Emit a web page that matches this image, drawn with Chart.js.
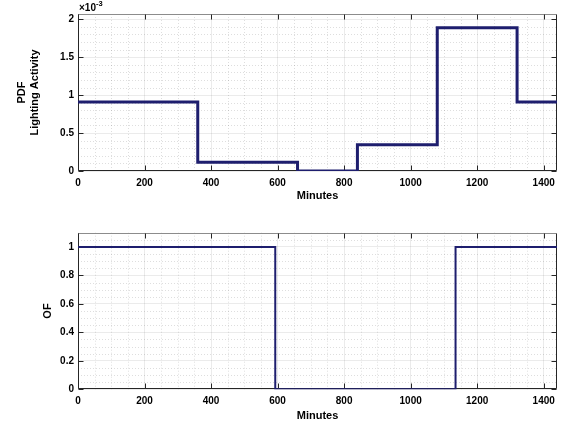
<!DOCTYPE html>
<html>
<head>
<meta charset="utf-8">
<script src="https://cdn.jsdelivr.net/npm/chart.js@4"></script>
<style>
  html, body { margin: 0; padding: 0; background: #fff; }
  canvas { position: absolute; left: 0; }
</style>
</head>
<body>
<canvas id="pdfChart" width="568" height="210" style="top:0"></canvas>
<canvas id="ofChart" width="568" height="211" style="top:210px"></canvas>
<script>
// Top panel: lighting activity PDF (values in units of 1e-3), one value per interval
const pdfBreaks = [0, 360, 660, 840, 1080, 1320, 1440];
const pdfValues = [0.91, 0.115, 0, 0.345, 1.89, 0.91];
// Bottom panel: OF on/off, one value per interval
const ofBreaks = [0, 593, 1135, 1440];
const ofValues = [1, 0, 1];
// tick labels
const minuteTicks = [0, 200, 400, 600, 800, 1000, 1200, 1400];
const pdfTicks = [0, 0.5, 1, 1.5, 2];
const ofTicks = [0, 0.2, 0.4, 0.6, 0.8, 1];

const navy = "rgb(30, 30, 110)";
const axisColor = "#262626";
const tickFont = { family: "Liberation Sans, Arial, sans-serif", size: 10, weight: "bold" };
const titleFont = { family: "Liberation Sans, Arial, sans-serif", size: 11, weight: "bold", lineHeight: 1.2 };

// turn interval breaks + values into points for a stepped line
function stepPoints(breaks, values) {
  return breaks.map((b, i) => ({ x: b, y: values[Math.min(i, values.length - 1)] }));
}
function fixedTicks(list) {
  return scale => { scale.ticks = list.map(v => ({ value: v })); };
}

// minor dotted grid, box and inward tick marks like a matlab axes
const matlabAxes = {
  id: "matlabAxes",
  beforeDatasetsDraw(chart, args, opts) {
    const { ctx, chartArea: a, scales: { x, y } } = chart;
    ctx.save();
    ctx.lineWidth = 1;
    ctx.strokeStyle = "rgba(0,0,0,0.13)";
    ctx.setLineDash([1, 2]);
    const isMajor = (sc, v) => sc.ticks.some(t => Math.abs(t.value - v) < 1e-9);
    for (let k = 1; k * opts.xMinor < x.max; k++) {
      const v = k * opts.xMinor;
      if (isMajor(x, v)) continue;
      const px = Math.round(x.getPixelForValue(v)) + 0.5;
      ctx.beginPath(); ctx.moveTo(px, a.top); ctx.lineTo(px, a.bottom); ctx.stroke();
    }
    for (let k = 1; k * opts.yMinor < y.max - 1e-9; k++) {
      const v = k * opts.yMinor;
      if (isMajor(y, v)) continue;
      const py = Math.round(y.getPixelForValue(v)) + 0.5;
      ctx.beginPath(); ctx.moveTo(a.left, py); ctx.lineTo(a.right, py); ctx.stroke();
    }
    ctx.setLineDash([]);
    const L = Math.round(a.left) + 0.5, R = Math.round(a.right) - 0.5;
    const T = Math.round(a.top) + 0.5, B = Math.round(a.bottom) - 0.5;
    ctx.strokeStyle = "#8c8c8c";
    ctx.beginPath(); ctx.moveTo(L, T); ctx.lineTo(R, T); ctx.stroke();
    ctx.strokeStyle = axisColor;
    ctx.beginPath();
    ctx.moveTo(L, T); ctx.lineTo(L, B); ctx.lineTo(R, B); ctx.lineTo(R, T);
    ctx.stroke();
    const len = 5;
    x.ticks.forEach(t => {
      const px = Math.round(x.getPixelForValue(t.value)) + 0.5;
      ctx.beginPath();
      ctx.moveTo(px, B); ctx.lineTo(px, B - len);
      ctx.moveTo(px, T); ctx.lineTo(px, T + len);
      ctx.stroke();
    });
    y.ticks.forEach(t => {
      const py = Math.round(y.getPixelForValue(t.value)) + 0.5;
      ctx.beginPath();
      ctx.moveTo(L, py); ctx.lineTo(L + len, py);
      ctx.moveTo(R, py); ctx.lineTo(R - len, py);
      ctx.stroke();
    });
    ctx.restore();
  },
  afterDraw(chart, args, opts) {
    if (!opts.exponent) return;
    const { ctx, chartArea: a } = chart;
    ctx.save();
    ctx.fillStyle = "#000";
    ctx.textBaseline = "alphabetic";
    ctx.font = "bold 10px Liberation Sans, Arial, sans-serif";
    ctx.fillText("\u00d710", a.left + 1, a.top - 3);
    const w = ctx.measureText("\u00d710").width;
    ctx.font = "bold 7.5px Liberation Sans, Arial, sans-serif";
    ctx.fillText(opts.exponent, a.left + 1 + w, a.top - 8.5);
    ctx.restore();
  }
};

function makeChart(id, pts, width, yMax, yTicks, yTitle, yTitlePad, minors, pad, xHeight, xTitlePad) {
  return new Chart(document.getElementById(id), {
    type: "line",
    data: {
      datasets: [{
        data: pts,
        stepped: true,
        borderColor: navy,
        borderWidth: width,
        pointRadius: 0,
        fill: false
      }]
    },
    options: {
      responsive: false,
      animation: false,
      events: [],
      layout: { padding: pad },
      plugins: {
        legend: { display: false },
        tooltip: { enabled: false },
        matlabAxes: minors
      },
      scales: {
        x: {
          type: "linear",
          min: 0,
          max: 1440,
          afterBuildTicks: fixedTicks(minuteTicks),
          afterFit: s => { s.height = xHeight; },
          grid: { color: "rgba(0,0,0,0.08)", drawTicks: false },
          border: { display: false },
          ticks: { padding: 6, font: tickFont, color: "#000", maxRotation: 0, autoSkip: false,
                   callback: v => String(v) },
          title: { display: true, text: "Minutes", font: titleFont, color: "#000", padding: xTitlePad }
        },
        y: {
          type: "linear",
          min: 0,
          max: yMax,
          afterBuildTicks: fixedTicks(yTicks),
          afterFit: s => { s.width = 78; },
          grid: { color: "rgba(0,0,0,0.08)", drawTicks: false },
          border: { display: false },
          ticks: { padding: 4, font: tickFont, color: "#000", autoSkip: false,
                   callback: v => String(v) },
          title: { display: true, text: yTitle, font: titleFont, color: "#000",
                   padding: { top: yTitlePad, bottom: 0 } }
        }
      }
    },
    plugins: [matlabAxes]
  });
}

makeChart("pdfChart", stepPoints(pdfBreaks, pdfValues), 3, 2.07, pdfTicks,
  ["PDF", "Lighting Activity"], 15, { xMinor: 50, yMinor: 0.1, exponent: "-3" },
  { left: 0, right: 11, top: 14, bottom: 0 }, 39, { top: 0, bottom: 7.4 });

makeChart("ofChart", stepPoints(ofBreaks, ofValues), 2, 1.1, ofTicks,
  "OF", 41.4, { xMinor: 50, yMinor: 0.05 },
  { left: 0, right: 11, top: 22.7, bottom: 0 }, 31.7, { top: 0, bottom: -1.6 });
</script>
</body>
</html>
